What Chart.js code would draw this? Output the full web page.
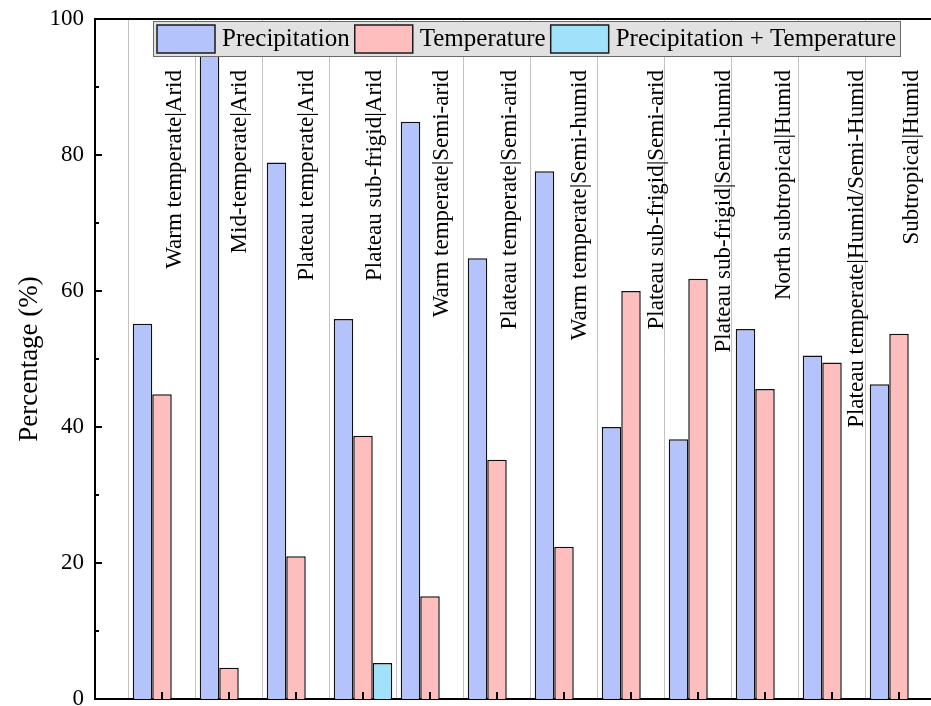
<!DOCTYPE html>
<html>
<head>
<meta charset="utf-8">
<script src="https://cdn.jsdelivr.net/npm/chart.js@4.4.1/dist/chart.umd.min.js"></script>
<style>
  html, body { margin: 0; padding: 0; overflow: hidden; background: #fff; }
  #wrap { width: 966px; height: 706px; }
</style>
</head>
<body>
<div id="wrap"><canvas id="chart"></canvas></div>
<script>
const zones = [
  "Warm temperate|Arid",
  "Mid-temperate|Arid",
  "Plateau temperate|Arid",
  "Plateau sub-frigid|Arid",
  "Warm temperate|Semi-arid",
  "Plateau temperate|Semi-arid",
  "Warm temperate|Semi-humid",
  "Plateau sub-frigid|Semi-arid",
  "Plateau sub-frigid|Semi-humid",
  "North subtropical|Humid",
  "Plateau temperate|Humid/Semi-Humid",
  "Subtropical|Humid"
];
const precipitation = [55.2, 95.4, 78.9, 55.9, 84.9, 64.8, 77.6, 40.0, 38.2, 54.4, 50.5, 46.3];
const temperature   = [44.8, 4.6, 21.0, 38.7, 15.1, 35.2, 22.4, 60.0, 61.8, 45.6, 49.5, 53.7];
const combined      = [null, null, null, 5.3, null, null, null, null, null, null, null, null];
const yTicks = [0, 20, 40, 60, 80, 100];

// how far right of the category centre each zone name sits (in categories)
const labelShift = [0.19, 0.16, 0.16, 0.18, 0.18, 0.19, 0.24, 0.39, 0.39, 0.28, 0.37, 0.19];

const SERIF = "'Liberation Serif', 'Times New Roman', serif";

function toPoints(values) {
  return values.map((v, i) => ({ x: i, y: v }));
}

const decorations = {
  id: 'decorations',
  afterDraw(chart) {
    const ctx = chart.ctx;
    const area = chart.chartArea;
    const xs = chart.scales.x;
    const ys = chart.scales.y;

    ctx.save();
    ctx.strokeStyle = '#000';
    ctx.lineWidth = 2;

    // top frame line
    ctx.beginPath();
    ctx.moveTo(area.left - 1, area.top);
    ctx.lineTo(area.right, area.top);
    ctx.stroke();

    // inward y ticks
    yTicks.forEach((v, k) => {
      const y = ys.getPixelForValue(v);
      ctx.beginPath();
      ctx.moveTo(area.left, y);
      ctx.lineTo(area.left + 7, y);
      ctx.stroke();
      if (k < yTicks.length - 1) {
        const ym = ys.getPixelForValue((v + yTicks[k + 1]) / 2);
        ctx.beginPath();
        ctx.moveTo(area.left, ym);
        ctx.lineTo(area.left + 4, ym);
        ctx.stroke();
      }
    });

    // inward x ticks at category centres
    zones.forEach((z, i) => {
      const x = xs.getPixelForValue(i);
      ctx.beginPath();
      ctx.moveTo(x, area.bottom);
      ctx.lineTo(x, area.bottom - 7);
      ctx.stroke();
    });

    // rotated zone names
    ctx.fillStyle = '#000';
    ctx.font = '23px ' + SERIF;
    ctx.textAlign = 'right';
    ctx.textBaseline = 'middle';
    zones.forEach((z, i) => {
      const x = xs.getPixelForValue(i + labelShift[i]);
      const y = ys.getPixelForValue(92.5);
      ctx.save();
      ctx.translate(x, y);
      ctx.rotate(-Math.PI / 2);
      ctx.fillText(z, 0, 0);
      ctx.restore();
    });

    // legend box
    ctx.font = '25px ' + SERIF;
    ctx.textAlign = 'left';
    const sets = chart.data.datasets;
    const boxL = area.left + 58, boxT = area.top + 2, boxH = 35;
    const swW = 58, swH = 28, pad = 4, gapText = 7, gapItem = 5;
    let w = pad;
    sets.forEach((d, i) => {
      w += swW + gapText + ctx.measureText(d.label).width + (i < sets.length - 1 ? gapItem : pad);
    });
    ctx.fillStyle = '#e1e1e1';
    ctx.fillRect(boxL, boxT, w, boxH);
    ctx.lineWidth = 1;
    ctx.strokeStyle = '#6a6a6a';
    ctx.strokeRect(boxL + 0.5, boxT + 0.5, w, boxH);
    let x = boxL + pad;
    sets.forEach((d) => {
      ctx.fillStyle = d.backgroundColor;
      ctx.fillRect(x, boxT + 4, swW, swH);
      ctx.lineWidth = 1.5;
      ctx.strokeStyle = '#1a1a1a';
      ctx.strokeRect(x, boxT + 4, swW, swH);
      x += swW + gapText;
      ctx.fillStyle = '#000';
      ctx.fillText(d.label, x, boxT + boxH / 2 + 1);
      x += ctx.measureText(d.label).width + gapItem;
    });
    ctx.restore();
  }
};

const barStyle = { borderColor: '#111', borderWidth: 1.5 };

new Chart(document.getElementById('chart'), {
  type: 'bar',
  data: {
    datasets: [
      Object.assign({ label: 'Precipitation', data: toPoints(precipitation), backgroundColor: '#b4c3fc' }, barStyle),
      Object.assign({ label: 'Temperature', data: toPoints(temperature), backgroundColor: '#ffbebe' }, barStyle),
      Object.assign({ label: 'Precipitation + Temperature', data: toPoints(combined), backgroundColor: '#a2e1fa' }, barStyle)
    ]
  },
  options: {
    responsive: true,
    maintainAspectRatio: false,
    animation: false,
    categoryPercentage: 0.873,
    barPercentage: 1,
    layout: { padding: { top: 19, bottom: 7, left: 0, right: 0 } },
    plugins: { legend: { display: false }, tooltip: { enabled: false } },
    scales: {
      x: {
        type: 'linear',
        offset: false,
        min: -1,
        max: 12,
        afterBuildTicks(scale) {
          scale.ticks = zones.map((z, i) => ({ value: i - 0.5 })).concat([{ value: zones.length - 0.5 }]);
        },
        afterFit(scale) {
          scale.height = 0;
          scale.paddingLeft = 0;
          scale.paddingRight = 0;
        },
        ticks: { display: false },
        grid: { display: true, offset: false, color: '#c2c2c2', lineWidth: 1, drawTicks: false },
        border: { display: true, color: '#000', width: 2 }
      },
      y: {
        min: 0,
        max: 100,
        afterBuildTicks(scale) {
          scale.ticks = yTicks.map(v => ({ value: v }));
        },
        afterFit(scale) {
          scale.width = 95;
          scale.paddingTop = 0;
          scale.paddingBottom = 0;
        },
        ticks: { color: '#000', padding: 11, font: { family: SERIF, size: 23 } },
        grid: { display: false, drawTicks: false },
        border: { display: true, color: '#000', width: 2 },
        title: {
          display: true,
          text: 'Percentage (%)',
          color: '#000',
          font: { family: SERIF, size: 27 },
          padding: { top: 14, bottom: 0 }
        }
      }
    }
  },
  plugins: [decorations]
});
</script>
</body>
</html>
